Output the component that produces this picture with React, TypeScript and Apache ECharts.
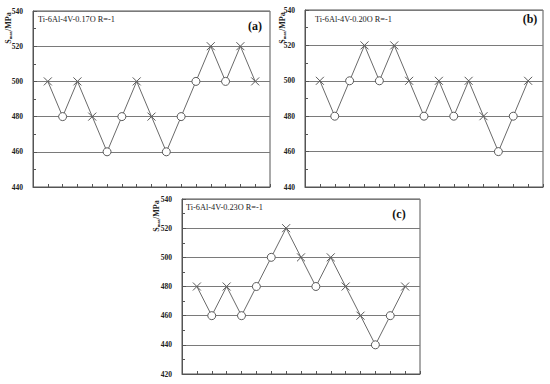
import React, { useEffect, useRef } from "react";
import * as echarts from "echarts";

const positions = [1, 2, 3, 4, 5, 6, 7, 8, 9, 10, 11, 12, 13, 14, 15];

const aValues = [500, 480, 500, 480, 460, 480, 500, 480, 460, 480, 500, 520, 500, 520, 500];
const aMarks = ["x", "o", "x", "x", "o", "o", "x", "x", "o", "o", "o", "x", "o", "x", "x"];

const bValues = [500, 480, 500, 520, 500, 520, 500, 480, 500, 480, 500, 480, 460, 480, 500];
const bMarks = ["x", "o", "o", "x", "o", "x", "x", "o", "x", "o", "x", "x", "o", "o", "x"];

const cValues = [480, 460, 480, 460, 480, 500, 520, 500, 480, 500, 480, 460, 440, 460, 480];
const cMarks = ["x", "o", "x", "o", "o", "o", "x", "x", "o", "x", "x", "x", "o", "o", "x"];

const titles = ["Ti-6Al-4V-0.17O R=-1", "Ti-6Al-4V-0.20O R=-1", "Ti-6Al-4V-0.23O R=-1"];
const tags = ["(a)", "(b)", "(c)"];
const yMins = [440, 440, 420];
const yMax = 540;

const SERIF = "'Times New Roman', 'Liberation Serif', serif";
const CROSS = "path://M0,0L10,10M10,0L0,10";

export default function App() {
  const ref = useRef<HTMLDivElement>(null);
  useEffect(() => {
    if (!ref.current) return;
    const chart = echarts.init(ref.current, null, { renderer: "svg" });
    const grids = [
      { left: 33, top: 11, width: 237, height: 176 },
      { left: 305, top: 10, width: 238, height: 177 },
      { left: 182, top: 199, width: 238, height: 175 },
    ];
    const valueSets = [aValues, bValues, cValues];
    const markSets = [aMarks, bMarks, cMarks];

    const mkData = (vals: number[], marks: string[]) =>
      vals.map((v, i) => ({
        value: [positions[i], v],
        symbol: marks[i] === "o" ? "circle" : CROSS,
        symbolSize: 8,
      }));

    const titlePos = [
      [38, 19],
      [315, 19],
      [186, 207],
    ];
    const tagPos = [
      [255, 26],
      [530, 19],
      [399, 214],
    ];
    const namePos = [
      [8, 28],
      [282, 28],
      [156, 216],
    ];

    const graphics: any[] = [];
    for (let i = 0; i < 3; i++) {
      graphics.push({
        type: "text",
        x: titlePos[i][0],
        y: titlePos[i][1],
        style: {
          text: titles[i],
          font: `8.3px ${SERIF}`,
          fill: "#222",
          align: "left",
          verticalAlign: "middle",
        },
      });
      graphics.push({
        type: "text",
        x: tagPos[i][0],
        y: tagPos[i][1],
        style: {
          text: tags[i],
          font: `bold 12px ${SERIF}`,
          fill: "#111",
          align: "center",
          verticalAlign: "middle",
        },
      });
      graphics.push({
        type: "text",
        x: namePos[i][0],
        y: namePos[i][1],
        rotation: Math.PI / 2,
        style: {
          text: "{s|S}{sub|max}{s|/MPa}",
          align: "center",
          verticalAlign: "middle",
          rich: {
            s: {
              fontFamily: SERIF,
              fontWeight: "bold",
              fontSize: 8,
              lineHeight: 10,
              fill: "#222",
              verticalAlign: "middle",
            },
            sub: {
              fontFamily: SERIF,
              fontWeight: "bold",
              fontSize: 4.5,
              lineHeight: 10,
              fill: "#222",
              verticalAlign: "bottom",
            },
          },
        },
      });
    }

    chart.setOption({
      animation: false,
      backgroundColor: "#fff",
      grid: grids.map((g) => ({
        ...g,
        show: true,
        borderColor: "#555",
        borderWidth: 1,
        backgroundColor: "transparent",
      })),
      xAxis: grids.map((_, i) => ({
        type: "value",
        gridIndex: i,
        min: 0,
        max: 16,
        interval: 1,
        axisLine: { show: true, lineStyle: { color: "#555", width: 1 } },
        axisTick: { show: true, inside: true, length: 3, lineStyle: { color: "#555" } },
        axisLabel: { show: false },
        splitLine: { show: false },
      })),
      yAxis: grids.map((_, i) => ({
        type: "value",
        gridIndex: i,
        min: yMins[i],
        max: yMax,
        interval: 20,
        axisLine: { show: true, lineStyle: { color: "#555", width: 1 } },
        axisTick: { show: true, inside: true, length: 4, lineStyle: { color: "#555" } },
        minorTick: { show: true, splitNumber: 2, length: 3, lineStyle: { color: "#555" } },
        axisLabel: {
          show: true,
          margin: 10,
          fontFamily: SERIF,
          fontWeight: "bold",
          fontSize: 7.5,
          color: "#222",
        },
        splitLine: { show: true, lineStyle: { color: "#7a7a7a", width: 1 } },
      })),
      series: valueSets.map((vals, i) => ({
        type: "line",
        xAxisIndex: i,
        yAxisIndex: i,
        data: mkData(vals, markSets[i]),
        lineStyle: { color: "#6a6a6a", width: 1 },
        itemStyle: { color: "#fff", borderColor: "#5a5a5a", borderWidth: 1 },
        showSymbol: true,
        showAllSymbol: true,
        z: 3,
      })),
      graphic: graphics,
    });
    return () => chart.dispose();
  }, []);
  return (
    <div
      ref={ref}
      style={{ position: "fixed", left: 0, top: 0, width: 550, height: 384 }}
    />
  );
}
